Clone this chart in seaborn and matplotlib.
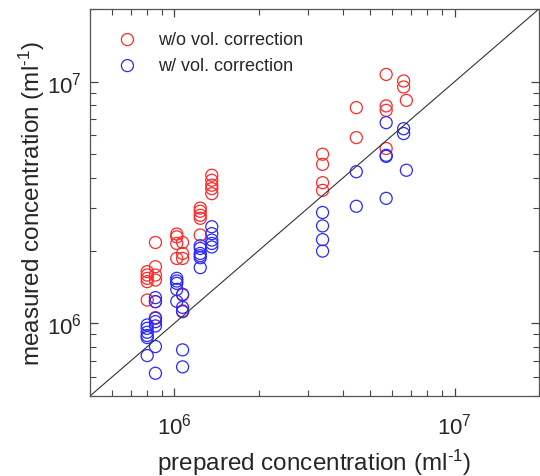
import numpy as np
import pandas as pd
import matplotlib
matplotlib.use("Agg")
import matplotlib.pyplot as plt
import seaborn as sns
from matplotlib.ticker import LogLocator, NullFormatter

# ---- data ----
red_x = [8.0e5]*5 + [8.56e5]*6 + [1.02e6]*4 + [1.07e6]*5 + [1.237e6]*5 + [1.36e6]*5 \
        + [3.38e6]*4 + [4.46e6]*2 + [5.7e6]*4 + [6.58e6]*2 + [6.73e6]*1
red_y = [1.636e6, 1.584e6, 1.535e6, 1.487e6, 1.248e6,
         2.16e6, 1.715e6, 1.584e6, 1.51e6, 1.229e6, 1.056e6,
         2.34e6, 2.28e6, 2.14e6, 1.856e6,
         2.16e6, 1.946e6, 1.856e6, 1.309e6, 1.126e6,
         3.0e6, 2.91e6, 2.80e6, 2.72e6, 2.32e6,
         4.10e6, 3.91e6, 3.73e6, 3.61e6, 3.44e6,
         5.01e6, 4.55e6, 3.82e6, 3.55e6,
         7.81e6, 5.87e6,
         1.072e7, 7.94e6, 7.61e6, 5.29e6,
         1.007e7, 9.51e6,
         8.37e6]
blue_x = [8.0e5]*6 + [8.56e5]*7 + [1.02e6]*5 + [1.07e6]*5 + [1.237e6]*6 + [1.36e6]*5 \
         + [3.38e6]*4 + [4.46e6]*2 + [5.7e6]*4 + [6.58e6]*2 + [6.73e6]*1
blue_y = [9.84e5, 9.53e5, 9.18e5, 8.9e5, 8.73e5, 7.35e5,
          1.277e6, 1.229e6, 1.049e6, 1.016e6, 9.75e5, 8.01e5, 6.21e5,
          1.535e6, 1.496e6, 1.463e6, 1.382e6, 1.233e6,
          1.318e6, 1.164e6, 1.117e6, 7.76e5, 6.6e5,
          2.094e6, 2.04e6, 1.946e6, 1.905e6, 1.868e6, 1.70e6,
          2.51e6, 2.35e6, 2.21e6, 2.14e6, 2.07e6,
          2.875e6, 2.53e6, 2.22e6, 1.99e6,
          4.24e6, 3.05e6,
          6.77e6, 4.96e6, 4.91e6, 3.29e6,
          6.39e6, 6.10e6,
          4.30e6]
series_labels = ["w/o vol. correction", "w/ vol. correction"]
x_label = r"prepared concentration (ml$^{\text{-1}}$)"
y_label = r"measured concentration (ml$^{\text{-1}}$)"
axis_limits = (5e5, 2e7)

sns.set_theme(style="ticks")
plt.rcParams['font.family'] = ['Liberation Sans', 'DejaVu Sans']
plt.rcParams['mathtext.fontset'] = 'custom'
plt.rcParams['mathtext.rm'] = 'Liberation Sans'
plt.rcParams['mathtext.it'] = 'Liberation Sans:italic'
plt.rcParams['mathtext.bf'] = 'Liberation Sans:bold'
plt.rcParams['xtick.minor.visible'] = True
plt.rcParams['ytick.minor.visible'] = True

fig = plt.figure(figsize=(5.4, 4.77), dpi=100)
ax = fig.add_axes([90/540, 80/477, 450/540 - 0.002, 387/477])

df_r = pd.DataFrame({"x": red_x, "y": red_y})
df_b = pd.DataFrame({"x": blue_x, "y": blue_y})
sns.scatterplot(data=df_r, x="x", y="y", ax=ax, s=75, marker="o",
                facecolor="none", edgecolor="#ff2a2a", linewidth=0.9,
                label=series_labels[0])
sns.scatterplot(data=df_b, x="x", y="y", ax=ax, s=75, marker="o",
                facecolor="none", edgecolor="#2a2aff", linewidth=0.9,
                label=series_labels[1])

ax.set_xscale("log")
ax.set_yscale("log")
ax.set_xlim(*axis_limits)
ax.set_ylim(*axis_limits)
ax.axline((1e6, 1e6), (1e7, 1e7), color="#333333", lw=0.8, zorder=1)

for sp in ax.spines.values():
    sp.set_visible(True)
    sp.set_color("#555555")
    sp.set_linewidth(0.9)

ax.xaxis.set_major_locator(LogLocator(base=10, numticks=100))
ax.yaxis.set_major_locator(LogLocator(base=10, numticks=100))
ax.xaxis.set_minor_locator(LogLocator(base=10, subs=tuple(range(2, 10)), numticks=100))
ax.yaxis.set_minor_locator(LogLocator(base=10, subs=tuple(range(2, 10)), numticks=100))
ax.xaxis.set_minor_formatter(NullFormatter())
ax.yaxis.set_minor_formatter(NullFormatter())
ax.tick_params(which="both", direction="in", top=True, right=True,
               bottom=True, left=True, color="#444444")
ax.tick_params(which="major", length=6, width=0.9, labelsize=16)
ax.tick_params(axis="x", which="major", pad=12)
ax.tick_params(axis="y", which="major", pad=6)
ax.tick_params(which="minor", length=4, width=0.8)

ax.set_xlabel(x_label, fontsize=17.5, labelpad=6)
ax.set_ylabel(y_label, fontsize=17.5, labelpad=0)

leg = ax.legend(loc="upper left", frameon=False, fontsize=13,
                handletextpad=0.7, borderaxespad=0.3,
                bbox_to_anchor=(0.015, 0.975), labelspacing=0.5)

fig.savefig("out.png", dpi=100)
